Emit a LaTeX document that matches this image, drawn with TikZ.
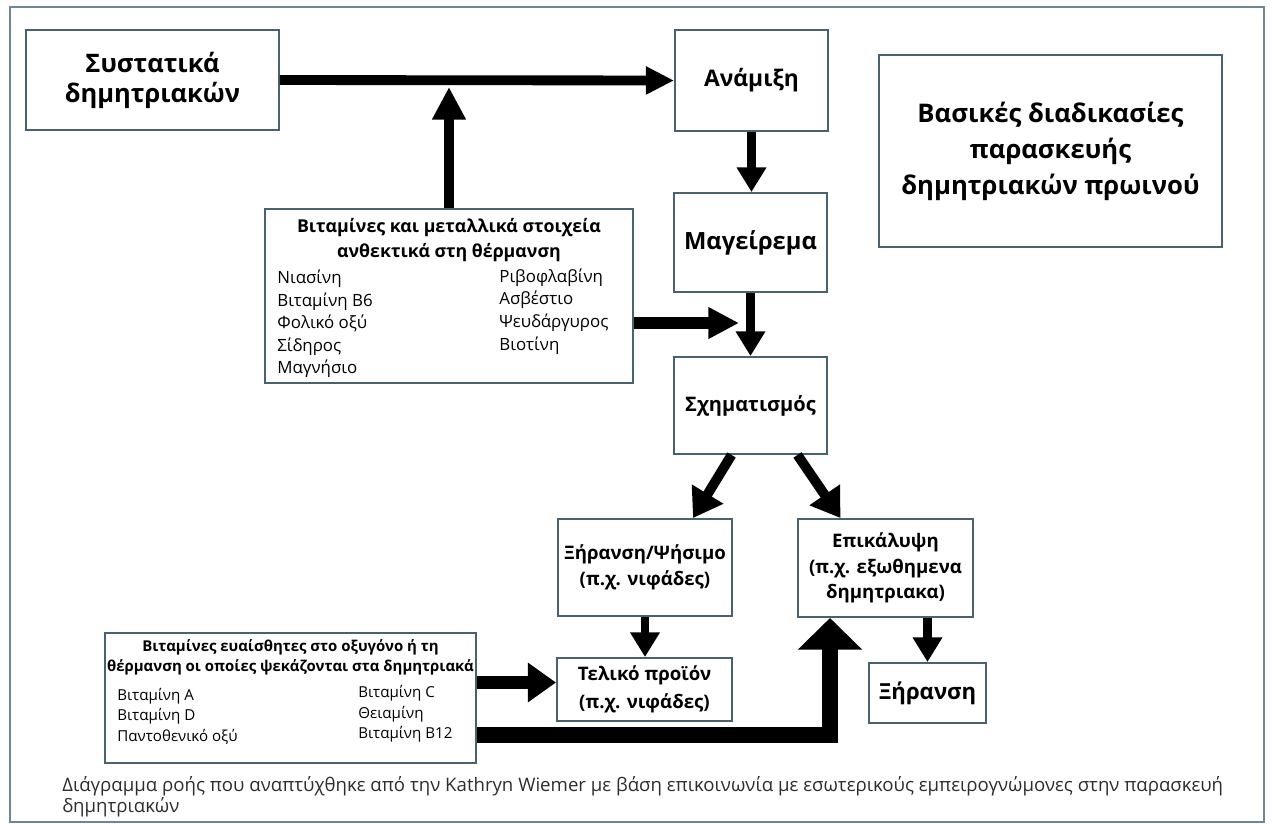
\documentclass[tikz,border=0pt]{standalone}
\usepackage{fontspec}
\setmainfont{Open Sans}
\usetikzlibrary{arrows.meta, positioning}
\definecolor{boxline}{RGB}{72,98,112}
\definecolor{framecol}{RGB}{110,135,150}
\definecolor{notegray}{RGB}{45,45,45}
\tikzset{
  box/.style={
    rectangle,
    draw=boxline,
    line width=1.1pt,
    fill=white,
    align=center,
    inner sep=0pt,
    font=\fontsize{14.5}{17}\selectfont\bfseries
  },
  stepbox/.style={
    box,
    font=\fontsize{10.6}{14.5}\selectfont\bfseries
  },
  listhead/.style={align=center, inner sep=0pt},
  listcol/.style={align=left, anchor=west, inner sep=0pt},
  arrow/.style={-{Triangle[length=14pt,width=16pt]}, line width=4.6pt},
  toparrow/.style={-{Triangle[length=16pt,width=15pt]}, line width=5.6pt},
  uparrow/.style={-{Triangle[length=18.5pt,width=18pt]}, line width=5.6pt},
  sidearrow/.style={-{Triangle[length=17.5pt,width=17pt]}, line width=6.8pt},
  slantarrow/.style={-{Triangle[length=16pt,width=20pt]}, line width=5.6pt},
  widearrow/.style={-{Triangle[length=16pt,width=21.5pt]}, line width=7.4pt},
  bigarrow/.style={-{Triangle[length=18pt,width=35.5pt]}, line width=9.6pt, line join=miter},
  note/.style={font=\fontsize{10.6}{12}\selectfont, text=notegray, align=left, anchor=west, inner sep=0pt}
}
\begin{document}
\begin{tikzpicture}[x=0.02cm,y=-0.02cm]
\useasboundingbox (0,0) rectangle (1272,823);
\draw[framecol, line width=1.1pt] (10,7) rectangle (1264,822);

\node[box, minimum width=5.06cm, minimum height=2.0cm] (ingr) at (152.5,80) {Συστατικά\\δημητριακών};
\node[box, minimum width=3.06cm, minimum height=2.02cm, font=\fontsize{13}{17}\selectfont\bfseries] (mix) at (751.5,80.5) {Ανάμιξη};
\node[box, minimum width=6.86cm, minimum height=3.84cm, font=\fontsize{14.6}{20.5}\selectfont\bfseries] (title) at (1050.5,151) {Βασικές διαδικασίες\\παρασκευής\\δημητριακών πρωινού};
\node[box, minimum width=3.06cm, minimum height=1.98cm, font=\fontsize{13.5}{17}\selectfont\bfseries] (cook) at (750.5,242.5) {Μαγείρεμα};
\node[stepbox, minimum width=3.06cm, minimum height=1.94cm, font=\fontsize{11.4}{14.5}\selectfont\bfseries] (shape) at (750.5,405.5) {Σχηματισμός};
\node[stepbox, minimum width=3.48cm, minimum height=1.94cm] (drybake) at (645,567.5) {Ξήρανση/Ψήσιμο\\(π.χ. νιφάδες)};
\node[stepbox, minimum width=3.5cm, minimum height=1.96cm] (coat) at (885.5,568) {Επικάλυψη\\(π.χ. εξωθημενα\\δημητριακα)};
\node[stepbox, minimum width=3.5cm, minimum height=1.26cm, font=\fontsize{10.6}{16}\selectfont\bfseries] (final) at (644.5,689.5) {Τελικό προϊόν\\(π.χ. νιφάδες)};
\node[box, minimum width=2.34cm, minimum height=1.2cm, font=\fontsize{12.6}{16}\selectfont\bfseries] (dry) at (927.5,693) {Ξήρανση};

% heat-stable vitamins and minerals
\node[box, minimum width=7.36cm, minimum height=3.48cm] (vitheat) at (449,296) {};
\node[listhead, font=\fontsize{10.1}{14.7}\selectfont\bfseries] (vitheathead) at (449,240) {Βιταμίνες και μεταλλικά στοιχεία\\ανθεκτικά στη θέρμανση};
\node[listcol, font=\fontsize{9.6}{12.75}\selectfont] (vitheatleft) at (277,324) {Νιασίνη\\Βιταμίνη B6\\Φολικό οξύ\\Σίδηρος\\Μαγνήσιο};
\node[listcol, font=\fontsize{9.6}{13}\selectfont] (vitheatright) at (499,311.5) {Ριβοφλαβίνη\\Ασβέστιο\\Ψευδάργυρος\\Βιοτίνη};

% sprayed-on sensitive vitamins
\node[box, minimum width=7.42cm, minimum height=2.6cm] (vitspray) at (290.5,698) {};
\node[listhead, font=\fontsize{8.5}{11.3}\selectfont\bfseries] (vitsprayhead) at (290.5,657) {Βιταμίνες ευαίσθητες στο οξυγόνο ή τη\\θέρμανση οι οποίες ψεκάζονται στα δημητριακά};
\node[listcol, font=\fontsize{8.6}{11.6}\selectfont] (vitsprayleft) at (117,716) {Βιταμίνη A\\Βιταμίνη D\\Παντοθενικό οξύ};
\node[listcol, font=\fontsize{8.6}{11.6}\selectfont] (vitsprayright) at (358,714) {Βιταμίνη C\\Θειαμίνη\\Βιταμίνη B12};

\coordinate (join) at (449,87);
\coordinate (merge) at (739,323);
\coordinate (finalin) at ([yshift=0.14cm]final.west);

\draw[toparrow] (ingr.east) -- (mix.west);
\draw[uparrow] (vitheat.north) -- (join);
\draw[arrow] (mix.south) -- (mix.south |- cook.north);
\draw[arrow] (cook.south) -- (cook.south |- shape.north);
\draw[sidearrow] (vitheat.east |- merge) -- (merge);
\draw[slantarrow] ([xshift=-0.38cm]shape.south) -- ([xshift=0.96cm]drybake.north);
\draw[slantarrow] ([xshift=0.94cm]shape.south) -- ([xshift=-0.9cm]coat.north);
\draw[arrow] (drybake.south) -- (drybake.south |- final.north);
\draw[arrow] (coat.south -| dry.north) -- (dry.north);
\draw[widearrow] (vitspray.east |- finalin) -- (finalin);
\draw[bigarrow] ([yshift=-0.74cm]vitspray.east) -| ([xshift=-1.11cm]coat.south);

\node[note] (source) at (62,797) {Διάγραμμα ροής που αναπτύχθηκε από την Kathryn Wiemer με βάση επικοινωνία με εσωτερικούς εμπειρογνώμονες στην παρασκευή\\δημητριακών};
\end{tikzpicture}
\end{document}
